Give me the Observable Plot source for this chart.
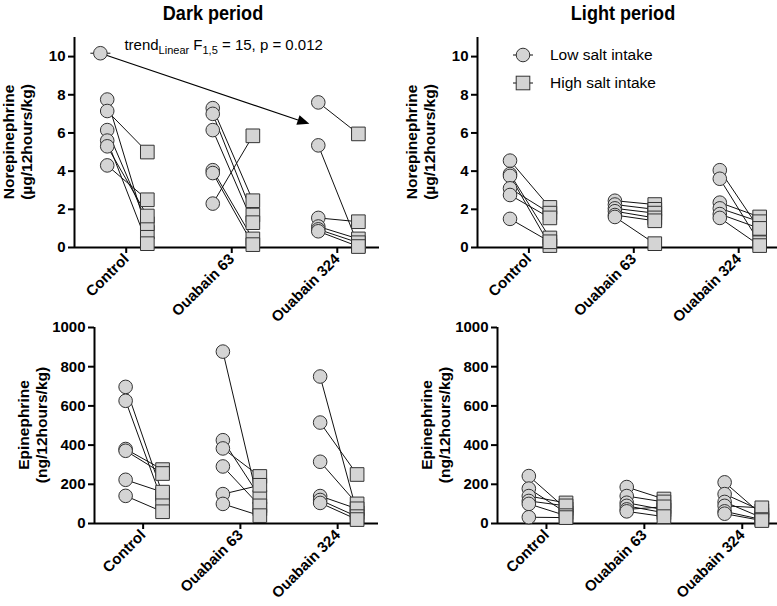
<!DOCTYPE html>
<html><head><meta charset="utf-8">
<script src="https://cdn.jsdelivr.net/npm/d3@7"></script>
<script src="https://cdn.jsdelivr.net/npm/@observablehq/plot@0.6"></script>
<style>
body{margin:0;background:#fff;font-family:"Liberation Sans",Arial,sans-serif;}
#root{position:relative;width:777px;height:606px;overflow:hidden;background:#fff;}
.panel{position:absolute;}
.title{position:absolute;font-weight:bold;font-size:21px;transform:translateX(-50%) scaleX(0.86);top:1px;white-space:nowrap;color:#000;}
</style></head><body><div id="root"></div>
<script>
// ---- data ----
const categories = ["Control", "Ouabain 63", "Ouabain 324"];
const seriesNames = ["Low salt intake", "High salt intake"];
const periods = ["Dark period", "Light period"];

// Norepinephrine (µg/12hours/kg); low[i][j] paired with high[i][j]
const neDarkLow  = [[7.75, 7.15, 6.15, 5.6, 5.3, 4.3], [7.3, 7.0, 6.15, 4.05, 3.9, 2.3], [7.6, 5.35, 1.55, 1.1, 0.95, 0.85]];
const neDarkHigh = [[0.8, 5.0, 1.25, 0.2, 1.65, 2.5], [2.45, 1.7, 1.3, 0.45, 0.15, 5.85], [5.95, 0.1, 1.35, 0.45, 0.25, 0.05]];
const neLightLow  = [[4.55, 3.85, 3.75, 3.1, 2.75, 1.5], [2.45, 2.25, 2.05, 1.9, 1.7, 1.6], [4.05, 3.6, 2.35, 2.05, 1.75, 1.55]];
const neLightHigh = [[2.1, 0.5, 0.1, 1.8, 1.55, 0.3], [2.25, 2.0, 1.8, 1.55, 1.4, 0.2], [0.95, 0.25, 1.6, 1.35, 1.0, 0.1]];
// Epinephrine (ng/12hours/kg)
const epDarkLow  = [[697, 626, 380, 371, 223, 141], [877, 425, 383, 291, 150, 100], [750, 515, 315, 140, 120, 105]];
const epDarkHigh = [[150, 110, 275, 255, 160, 60], [75, 135, 240, 90, 195, 40], [55, 250, 100, 75, 35, 20]];
const epLightLow  = [[242, 178, 140, 115, 100, 32], [186, 140, 106, 90, 72, 62], [210, 150, 110, 90, 62, 50]];
const epLightHigh = [[75, 55, 105, 90, 40, 30], [125, 110, 70, 55, 85, 35], [45, 65, 30, 80, 20, 15]];

const neTicks = [0, 2, 4, 6, 8, 10];
const epTicks = [0, 200, 400, 600, 800, 1000];

// trend annotation (dark period, norepinephrine)
const trendText = {a: "trend", sub1: "Linear", b: " F", sub2: "1,5", c: " = 15, p = 0.012"};

// ---- drawing ----
const FONT = '"Liberation Sans", Arial, sans-serif';
const OFF_LOW = -0.18, OFF_HIGH = 0.2;
const FILL = "#d4d4d4", STROKE = "#333";
const root = document.getElementById("root");

function makePanel(cfg) {
  const rows = [];
  categories.forEach((c, i) => cfg.low[i].forEach((v, j) => rows.push({cat: i, low: v, high: cfg.high[i][j]})));
  const xl = d => d.cat + OFF_LOW, xh = d => d.cat + OFF_HIGH;
  const plot = Plot.plot({
    width: cfg.width, height: cfg.height,
    marginLeft: cfg.ml, marginRight: cfg.mr, marginTop: cfg.mt, marginBottom: cfg.mb,
    x: {type: "linear", domain: cfg.xDomain},
    y: {type: "linear", domain: cfg.yDomain},
    style: {background: "transparent", overflow: "visible", fontFamily: FONT, color: "#000"},
    marks: [
      Plot.axisY(cfg.yTicks, {tickFormat: d => String(d), tickSize: 6, tickPadding: 3, fontSize: 15, fontWeight: "bold", label: null, strokeWidth: 2}),
      Plot.axisX([0, 1, 2], {tickFormat: i => categories[i], tickRotate: -45, tickSize: 6, tickPadding: 3, fontSize: 15, fontWeight: "bold", label: null, strokeWidth: 2}),
      Plot.ruleX([cfg.xDomain[0]], {strokeWidth: 2}),
      Plot.ruleY([0], {strokeWidth: 2}),
      Plot.link(rows, {x1: xl, y1: "low", x2: xh, y2: "high", stroke: "#111", strokeWidth: 1}),
      Plot.dot(rows, {x: xl, y: "low", r: 6.8, fill: FILL, stroke: STROKE, strokeWidth: 1}),
      Plot.dot(rows, {x: xh, y: "high", symbol: "square", r: 7.7, fill: FILL, stroke: STROKE, strokeWidth: 1})
    ]
  });
  plot.classList.add("panel");
  plot.style.left = cfg.left + "px";
  plot.style.top = cfg.top + "px";
  const svg = d3.select(plot);
  const yMid = (cfg.mt + cfg.height - cfg.mb) / 2;
  const lab = svg.append("text")
    .attr("transform", `translate(${cfg.ml + cfg.labelDx},${yMid}) rotate(-90)`)
    .attr("text-anchor", "middle").attr("font-weight", "bold").attr("font-size", 15.5)
    .attr("font-family", FONT).attr("fill", "#000");
  lab.append("tspan").attr("x", 0).attr("dy", 0).text(cfg.label1);
  lab.append("tspan").attr("x", 0).attr("dy", 18).text(cfg.label2);
  root.appendChild(plot);
  return {plot, svg};
}

function legendSymbol(g, cx, cy, square) {
  g.append("line").attr("x1", cx - 10).attr("x2", cx + 10).attr("y1", cy).attr("y2", cy).attr("stroke", "#111").attr("stroke-width", 1);
  if (square) g.append("rect").attr("x", cx - 6.8).attr("y", cy - 6.8).attr("width", 13.6).attr("height", 13.6).attr("fill", FILL).attr("stroke", STROKE);
  else g.append("circle").attr("cx", cx).attr("cy", cy).attr("r", 6.8).attr("fill", FILL).attr("stroke", STROKE);
}

// Titles
[[periods[0], 213], [periods[1], 623]].forEach(([t, x]) => {
  const d = document.createElement("div");
  d.className = "title"; d.textContent = t; d.style.left = x + "px";
  root.appendChild(d);
});

const tl = makePanel({low: neDarkLow, high: neDarkHigh, yDomain: [0, 11], yTicks: neTicks,
  left: 0, top: 30, width: 388, height: 290, ml: 74, mr: 9, mt: 7, mb: 73, xDomain: [-0.49, 2.4],
  label1: "Norepinephrine", label2: "(µg/12hours/kg)", labelDx: -60});
const tr = makePanel({low: neLightLow, high: neLightHigh, yDomain: [0, 11], yTicks: neTicks,
  left: 388, top: 30, width: 389, height: 290, ml: 89, mr: 0, mt: 7, mb: 73, xDomain: [-0.49, 2.37],
  label1: "Norepinephrine", label2: "(µg/12hours/kg)", labelDx: -60});
makePanel({low: epDarkLow, high: epDarkHigh, yDomain: [0, 1000], yTicks: epTicks,
  left: 0, top: 320, width: 388, height: 283, ml: 94, mr: 10, mt: 7, mb: 80, xDomain: [-0.5, 2.42],
  label1: "Epinephrine", label2: "(ng/12hours/kg)", labelDx: -65});
makePanel({low: epLightLow, high: epLightHigh, yDomain: [0, 1000], yTicks: epTicks,
  left: 388, top: 320, width: 389, height: 283, ml: 109, mr: 0, mt: 7, mb: 80, xDomain: [-0.5, 2.36],
  label1: "Epinephrine", label2: "(ng/12hours/kg)", labelDx: -65});

// Legend (light period, top)
{
  const g = tr.svg.append("g").attr("font-family", FONT).attr("font-size", 15.5).attr("fill", "#000").attr("text-anchor", "start");
  legendSymbol(g, 135, 25, false);
  legendSymbol(g, 135, 53, true);
  g.append("text").attr("x", 162).attr("y", 30).attr("text-anchor", "start").text(seriesNames[0]);
  g.append("text").attr("x", 162).attr("y", 58).attr("text-anchor", "start").text(seriesNames[1]);
}

// Trend annotation (dark period, top) through the panel's scales
{
  const sx = tl.plot.scale("x"), sy = tl.plot.scale("y");
  const x0 = sx.apply(-0.24), y0 = sy.apply(10.15);
  const x1 = sx.apply(1.74), y1 = sy.apply(6.45);
  const g = tl.svg.append("g").attr("text-anchor", "start");
  const ang = Math.atan2(y1 - y0, x1 - x0);
  const L = 12, W = 5;
  const bx = x1 - L * Math.cos(ang), by = y1 - L * Math.sin(ang);
  g.append("line").attr("x1", x0).attr("y1", y0).attr("x2", bx).attr("y2", by).attr("stroke", "#000").attr("stroke-width", 1.2);
  g.append("path").attr("d", `M${x1},${y1}L${bx - W * Math.sin(ang)},${by + W * Math.cos(ang)}L${bx + W * Math.sin(ang)},${by - W * Math.cos(ang)}Z`).attr("fill", "#000");
  legendSymbol(g, x0, y0, false);
  const t = g.append("text").attr("x", x0 + 24).attr("y", y0 - 3).attr("text-anchor", "start").attr("font-family", FONT).attr("font-size", 15).attr("fill", "#000");
  t.append("tspan").text(trendText.a);
  t.append("tspan").attr("font-size", 11).attr("dy", 4).text(trendText.sub1);
  t.append("tspan").attr("dy", -4).text(trendText.b);
  t.append("tspan").attr("font-size", 11).attr("dy", 4).text(trendText.sub2);
  t.append("tspan").attr("dy", -4).text(trendText.c);
}
</script></body></html>
